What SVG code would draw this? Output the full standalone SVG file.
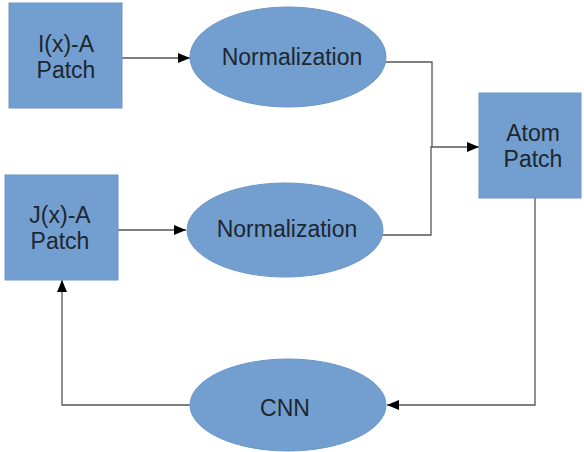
<svg xmlns="http://www.w3.org/2000/svg" width="584" height="452" viewBox="0 0 584 452">
<style>
.n{fill:#729fcf;stroke:#6a96c9;stroke-width:1}
.t{font-family:"Liberation Sans",Arial,sans-serif;font-size:23px;fill:#1e2630;text-anchor:middle}
.c{fill:none;stroke:#555;stroke-width:1.3}
</style>
<defs>
<marker id="a" markerWidth="12" markerHeight="10" refX="12" refY="5" orient="auto" markerUnits="userSpaceOnUse">
<path d="M0,0 L12,5 L0,10 Z" fill="#000"/>
</marker>
</defs>
<rect width="584" height="452" fill="#fff"/>
<g id="connectors">
<path class="c" d="M122,58 H190" marker-end="url(#a)"/>
<path class="c" d="M118,230 H186" marker-end="url(#a)"/>
<path class="c" d="M385,62 H432 V147"/>
<path class="c" d="M382,235 H431 V147 H479" marker-end="url(#a)"/>
<path class="c" d="M535,198 V405 H387" marker-end="url(#a)"/>
<path class="c" d="M190,405 H62 V280" marker-end="url(#a)"/>
</g>
<g id="ix">
<rect class="n" x="9" y="3" width="113" height="105"/>
<text class="t" x="66" y="52">I(x)-A</text>
<text class="t" x="66" y="78">Patch</text>
</g>
<g id="norm1">
<ellipse class="n" cx="288" cy="57" rx="98" ry="50"/>
<text class="t" x="292" y="65">Normalization</text>
</g>
<g id="jx">
<rect class="n" x="5" y="175" width="113" height="105"/>
<text class="t" x="60" y="223">J(x)-A</text>
<text class="t" x="60" y="249">Patch</text>
</g>
<g id="norm2">
<ellipse class="n" cx="285" cy="230" rx="98" ry="47"/>
<text class="t" x="287" y="237">Normalization</text>
</g>
<g id="atom">
<rect class="n" x="479" y="93" width="102" height="105"/>
<text class="t" x="533" y="141">Atom</text>
<text class="t" x="533" y="167">Patch</text>
</g>
<g id="cnn">
<ellipse class="n" cx="288" cy="405" rx="98" ry="46"/>
<text class="t" x="285" y="416">CNN</text>
</g>
</svg>
